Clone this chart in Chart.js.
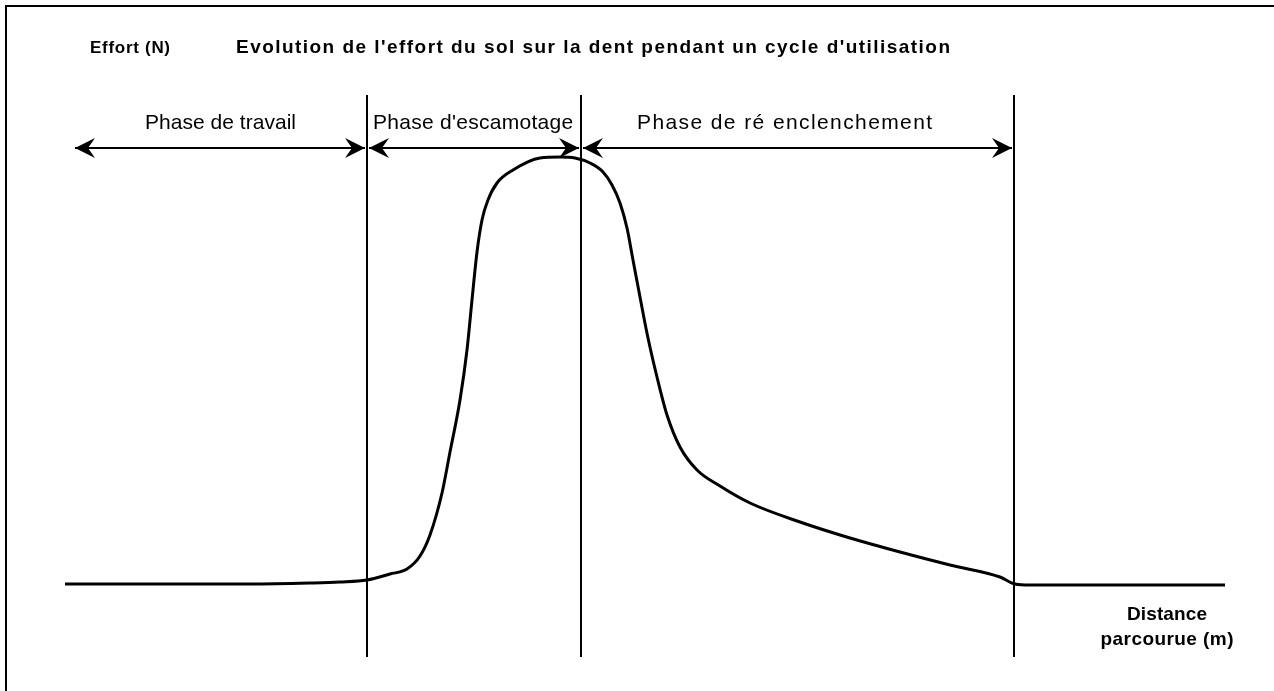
<!DOCTYPE html>
<html>
<head>
<meta charset="utf-8">
<script src="https://cdn.jsdelivr.net/npm/chart.js@4"></script>
<style>
  html, body { margin: 0; padding: 0; background: #fff; }
  canvas { display: block; }
</style>
</head>
<body>
<canvas id="effortChart" width="1274" height="691"></canvas>
<script>
// Courbe de l'effort (unités arbitraires)
const distance = [
  6.5, 15, 25, 31, 34, 36.7, 39, 40.7, 42, 43, 44.2, 45, 46, 46.7, 47.2, 47.7,
  48.2, 48.8, 49.7, 51.3, 54, 56, 57.5, 59, 60.3, 61.2, 62.0, 62.7, 63.3, 64.0,
  64.8, 65.7, 66.7, 68, 69.7, 72, 75, 80, 85, 90, 95, 100, 101.5, 103, 122.5,
];
const effort = [
  10.7, 10.7, 10.7, 10.8, 10.9, 11.1, 11.7, 12.2, 13.5, 15.6, 19.8, 23.9,
  29.1, 34.1, 39.1, 43.9, 47.1, 49.1, 50.8, 52.1, 53.3, 53.4, 53.3, 52.8,
  51.9, 50.6, 48.8, 46.3, 43.1, 39.4, 35.3, 31.4, 27.6, 24.4, 22.1, 20.5,
  18.8, 16.9, 15.3, 13.9, 12.6, 11.4, 10.7, 10.6, 10.6,
];

// limites des phases (traits verticaux)
const phaseLimits = [36.7, 58.1, 101.4];
const limitBottom = 3.4;
const limitTop = 59.6;

// flèches des phases
const phaseNames = [
  "Phase de travail",
  "Phase d'escamotage",
  "Phase de ré enclenchement",
];
const arrowStart = [7.5, 36.9, 58.3];
const arrowEnd = [36.5, 57.9, 101.2];
const arrowLevel = 54.3;

const chartTitle =
  "Evolution de l'effort du sol sur la dent pendant un cycle d'utilisation";
const yTitle = "Effort (N)";
const xTitle = ["Distance", "parcourue (m)"];

const datasets = [];

datasets.push({
  label: "Effort",
  data: distance.map((x, i) => ({ x: x, y: effort[i] })),
  borderColor: "#000",
  borderWidth: 3,
  cubicInterpolationMode: "monotone",
  pointRadius: 0,
});

phaseLimits.forEach((x) => {
  datasets.push({
    label: "limite",
    data: [
      { x: x, y: limitBottom },
      { x: x, y: limitTop },
    ],
    borderColor: "#000",
    borderWidth: 2,
    pointRadius: 0,
  });
});

phaseNames.forEach((name, i) => {
  datasets.push({
    label: name,
    isArrow: true,
    data: [
      { x: arrowStart[i], y: arrowLevel },
      { x: arrowEnd[i], y: arrowLevel },
    ],
    borderColor: "#000",
    borderWidth: 2,
    pointRadius: 0,
  });
});

function drawHead(ctx, tipX, tipY, dir) {
  // pointe avec encoche
  const len = 20;
  const half = 10;
  const notch = 13;
  ctx.beginPath();
  ctx.moveTo(tipX, tipY);
  ctx.lineTo(tipX + dir * len, tipY - half);
  ctx.lineTo(tipX + dir * notch, tipY);
  ctx.lineTo(tipX + dir * len, tipY + half);
  ctx.closePath();
  ctx.fill();
}

// écrit un texte en ajustant l'espacement des lettres à la largeur voulue
function fillFit(ctx, text, x, y, width) {
  ctx.letterSpacing = "0px";
  const natural = ctx.measureText(text).width;
  const gap = (width - natural) / Math.max(text.length - 1, 1);
  ctx.letterSpacing = gap.toFixed(2) + "px";
  let startX = x;
  if (ctx.textAlign === "center") startX = x - width / 2;
  ctx.save();
  ctx.textAlign = "left";
  ctx.fillText(text, startX, y);
  ctx.restore();
  ctx.letterSpacing = "0px";
}

const decorPlugin = {
  id: "decor",
  afterDatasetsDraw(chart) {
    const ctx = chart.ctx;
    const xs = chart.scales.x;
    const ys = chart.scales.y;
    const px = (v) => xs.getPixelForValue(v);
    const py = (v) => ys.getPixelForValue(v);
    const w = (a, b) => px(b) - px(a);
    ctx.save();

    // cadre (haut et gauche)
    ctx.strokeStyle = "#000";
    ctx.lineWidth = 2;
    ctx.beginPath();
    ctx.moveTo(6, chart.height);
    ctx.lineTo(6, 6);
    ctx.lineTo(chart.width, 6);
    ctx.stroke();

    // pointes de flèches
    ctx.fillStyle = "#000";
    chart.data.datasets.forEach((ds) => {
      if (!ds.isArrow) return;
      const y = py(ds.data[0].y);
      drawHead(ctx, px(ds.data[0].x), y, 1);
      drawHead(ctx, px(ds.data[1].x), y, -1);
    });

    // textes
    ctx.fillStyle = "#000";
    ctx.textBaseline = "middle";
    ctx.textAlign = "left";

    ctx.font = "bold 17px 'Liberation Sans', Arial, sans-serif";
    fillFit(ctx, yTitle, px(9), py(64.3), w(9, 17));
    ctx.font = "bold 19px 'Liberation Sans', Arial, sans-serif";
    fillFit(ctx, chartTitle, px(23.6), py(64.3), w(23.6, 95));

    ctx.font = "21px 'Liberation Sans', Arial, sans-serif";
    ctx.textAlign = "center";
    const labelWidths = [15.1, 20.0, 29.5];
    const labelCenters = [22.05, 47.3, 78.45];
    phaseNames.forEach((name, i) => {
      fillFit(ctx, name, px(labelCenters[i]), py(56.8), w(0, labelWidths[i]));
    });

    ctx.font = "bold 19px 'Liberation Sans', Arial, sans-serif";
    fillFit(ctx, xTitle[0], px(116.7), py(7.6), w(0, 8.0));
    fillFit(ctx, xTitle[1], px(116.7), py(5.1), w(0, 13.3));

    ctx.restore();
  },
};

const ctx = document.getElementById("effortChart").getContext("2d");
window.effortChart = new Chart(ctx, {
  type: "line",
  data: { datasets: datasets },
  options: {
    responsive: false,
    animation: false,
    layout: { padding: 0 },
    plugins: {
      legend: { display: false },
      tooltip: { enabled: false },
    },
    scales: {
      x: { type: "linear", min: 0, max: 127.4, display: false },
      y: { type: "linear", min: 0, max: 69.1, display: false },
    },
  },
  plugins: [decorPlugin],
});
</script>
</body>
</html>
